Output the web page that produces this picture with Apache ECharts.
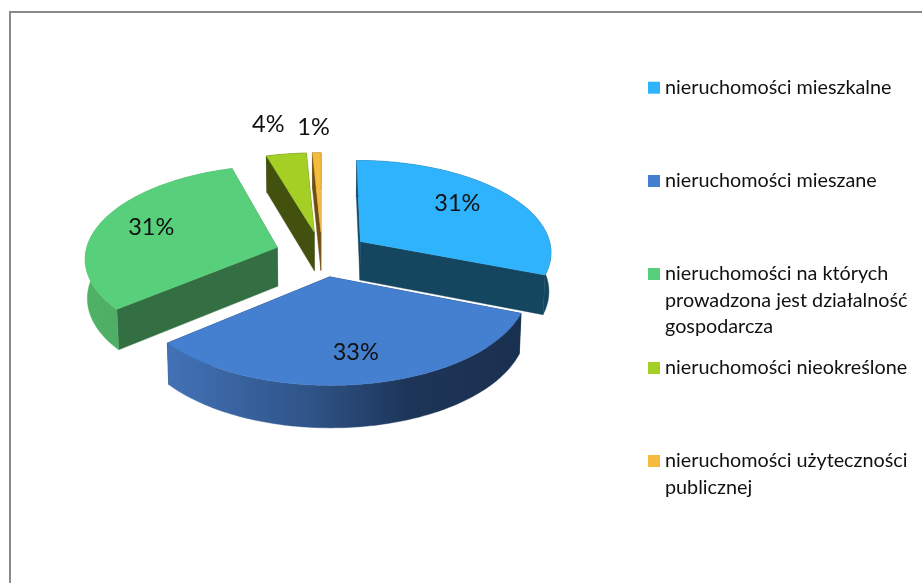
<!DOCTYPE html>
<html><head><meta charset="utf-8">
<style>html,body{margin:0;padding:0;background:#fff}#c{width:922px;height:583px}</style>
<script src="https://cdn.jsdelivr.net/npm/echarts@6/dist/echarts.min.js"></script>
</head><body><div id="c"></div>
<script>
// DATA
var categories = ['nieruchomości mieszkalne','nieruchomości mieszane','nieruchomości na których\nprowadzona jest działalność\ngospodarcza','nieruchomości nieokreślone','nieruchomości użyteczności\npublicznej'];
var values = [30.9, 33.1, 31.4, 3.8, 0.8];
var topColors = ['#2fb3fd','#457fd0','#58cf7a','#a4cf25','#f4bb3d'];
var wallColors = ['#14465f','#1a3050','#336f42','#43510e','#6e4f12'];
var arcStops = [
  [[0,'#14465f'],[1,'#14465f']],
  [[0,'#4272b6'],[0.4,'#2f5488'],[0.68,'#1d3558'],[1,'#1a3050']],
  [[0,'#50b266'],[1,'#4aa45e']],
  [[0,'#43510e'],[1,'#43510e']],
  [[0,'#6e4f12'],[1,'#6e4f12']]
];
// label placement: radial factor and pixel nudge, one per category
var labelRadius = [0.62, 0.50, 0.62, 1.28, 1.30];
var labelNudge = [[5,-8],[9,25],[-16,-4],[-11,-10],[-2,-4]];
var legendTops = [81.7, 175, 268, 362, 455];

// layout
var CX=322, CY=254, R=192, RY=92, K=0.105, EXPLODE=0.245, DEPTH=39, SHRINK=0.991;
var drawOrder=[4,3,2,0,1];
var total=values.reduce(function(a,b){return a+b},0);
function proj(i,ang,rho,low){
  var m=mids[i];
  var X=rho*Math.sin(ang)+EXPLODE*Math.sin(m);
  var Y=-rho*Math.cos(ang)-EXPLODE*Math.cos(m);
  var s=1/(1-K*Y);
  var x=CX+R*X*s, y=CY+RY*Y*s;
  if(low){x=CX+(x-CX)*SHRINK; y=y+DEPTH*(1+(s-1)*0.6);}
  return [x,y];
}
var starts=[],ends=[],mids=[],acc=0;
values.forEach(function(v){
  var a=acc/total*2*Math.PI; acc+=v; var b=acc/total*2*Math.PI;
  starts.push(a);ends.push(b);mids.push((a+b)/2);
});
function renderSlice(params,api){
  var i=api.value(0), a=starts[i], b=ends[i], n=Math.max(4,Math.ceil((b-a)/0.02));
  var topArc=[],lowArc=[];
  for(var k=0;k<=n;k++){var t=a+(b-a)*k/n;topArc.push(proj(i,t,1,false));lowArc.push(proj(i,t,1,true));}
  var apexT=proj(i,a,0,false), apexL=proj(i,a,0,true);
  var wall1=[apexT,topArc[0],lowArc[0],apexL];
  var wall2=[apexT,topArc[n],lowArc[n],apexL];
  var arcFace=topArc.concat(lowArc.slice().reverse());
  var top=[apexT].concat(topArc);
  var xs=arcFace.map(function(p){return p[0]});
  var x0=Math.min.apply(null,xs),x1=Math.max.apply(null,xs);
  var grad={type:'linear',global:true,x:x0,y:0,x2:x1,y2:0,colorStops:arcStops[i].map(function(s){return {offset:s[0],color:s[1]}})};
  var lp=proj(i,mids[i],labelRadius[i],false);
  function poly(pts,fill){return {type:'polygon',shape:{points:pts},style:{fill:fill,stroke:fill,lineWidth:0.4}};}
  return {type:'group',children:[
    poly(wall1,wallColors[i]),
    poly(wall2,wallColors[i]),
    poly(arcFace,grad),
    poly(top,topColors[i]),
    {type:'text',z2:50,style:{text:Math.round(values[i])+'%',x:lp[0]+labelNudge[i][0],y:lp[1]+labelNudge[i][1],
      fill:'#111',font:'23.5px Lato',align:'center',verticalAlign:'middle'}}
  ]};
}
var graphic=[
  {type:'line',shape:{x1:10,y1:12,x2:922,y2:12},style:{stroke:'#8a8a8a',lineWidth:2}},
  {type:'line',shape:{x1:10,y1:11,x2:10,y2:583},style:{stroke:'#8a8a8a',lineWidth:2}}
];
categories.forEach(function(c,i){
  graphic.push({type:'rect',shape:{x:648,y:legendTops[i],width:12,height:12},style:{fill:topColors[i]}});
  graphic.push({type:'text',style:{text:c,x:665,y:legendTops[i]-7.5,fill:'#111',font:'19.8px Lato',lineHeight:26.5,align:'left',verticalAlign:'top'}});
});
var chart=echarts.init(document.getElementById('c'),null,{renderer:'canvas'});
chart.setOption({
  animation:false,
  backgroundColor:'#fff',
  graphic:graphic,
  series:[{type:'custom',coordinateSystem:'none',renderItem:renderSlice,silent:true,
    data:drawOrder.map(function(i){return [i,values[i]]})}]
});
</script></body></html>
